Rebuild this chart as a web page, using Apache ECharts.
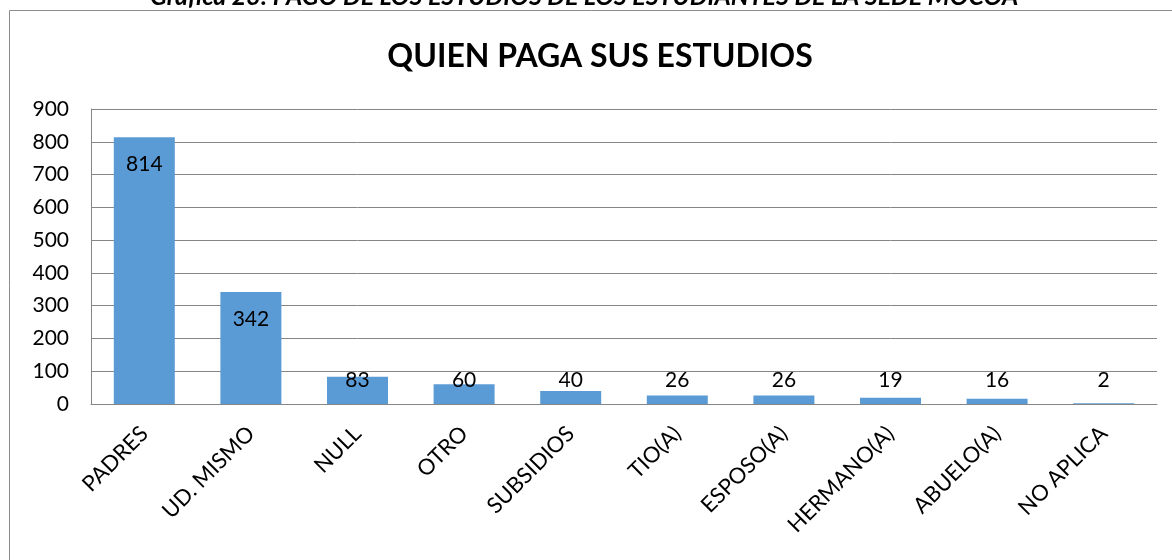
<!DOCTYPE html>
<html>
<head>
<meta charset="utf-8">
<script src="https://cdn.jsdelivr.net/npm/echarts@6/dist/echarts.min.js"></script>
<style>
    html, body { margin: 0; padding: 0; background: #fff; }
    #chart { width: 1172px; height: 560px; }
</style>
</head>
<body>
<div id="chart"></div>
<script>
    // datos
    var categorias = ['PADRES', 'UD. MISMO', 'NULL', 'OTRO', 'SUBSIDIOS', 'TIO(A)', 'ESPOSO(A)', 'HERMANO(A)', 'ABUELO(A)', 'NO APLICA'];
    var cantidades = [814, 342, 83, 60, 40, 26, 26, 19, 16, 2];

    var fuente = 'Lato, "Liberation Sans", sans-serif';
    var chart = echarts.init(document.getElementById('chart'));

    // etiqueta dentro de la barra si cabe, si no abajo (como Excel)
    var datos = cantidades.map(function (v) {
        var grande = v * 295 / 900 > 50;
        return {
            value: v,
            label: grande ? {position: 'insideTop', distance: 17} : {position: 'insideBottom', distance: 13}
        };
    });

    var option = {
        animation: false,
        title: {
            text: 'QUIEN PAGA SUS ESTUDIOS',
            left: 595,
            textAlign: 'center',
            top: 36,
            textStyle: {fontFamily: fuente, fontSize: 32, fontWeight: 'bold', color: '#000'}
        },
        graphic: [
            {
                type: 'rect',
                shape: {x: 9.5, y: 10.5, width: 1200, height: 600},
                style: {fill: 'none', stroke: '#8c8c8c', lineWidth: 1},
                z: -1
            },
            {
                type: 'text',
                left: 150,
                top: -16,
                style: {
                    text: 'Gráfica 23: PAGO DE LOS ESTUDIOS DE LOS ESTUDIANTES DE LA SEDE MOCOA',
                    font: 'italic bold 25px ' + fuente,
                    fill: '#000'
                }
            }
        ],
        grid: {left: 91, right: 15, top: 109, bottom: 156},
        xAxis: {
            type: 'category',
            data: categorias,
            axisTick: {show: false},
            axisLine: {lineStyle: {color: '#868686'}},
            axisLabel: {
                rotate: 45,
                interval: 0,
                margin: 26,
                fontFamily: fuente,
                fontSize: 22,
                color: '#000'
            }
        },
        yAxis: {
            type: 'value',
            min: 0,
            max: 900,
            interval: 100,
            axisLine: {show: true, lineStyle: {color: '#868686'}},
            axisTick: {show: false},
            axisLabel: {fontFamily: fuente, fontSize: 21, color: '#000', margin: 22},
            splitLine: {lineStyle: {color: '#868686'}}
        },
        series: [
            {
                type: 'bar',
                data: datos,
                barWidth: 61,
                itemStyle: {color: '#5b9bd5'},
                label: {
                    show: true,
                    fontFamily: fuente,
                    fontSize: 21,
                    color: '#000'
                }
            }
        ]
    };

    chart.setOption(option);
</script>
</body>
</html>
